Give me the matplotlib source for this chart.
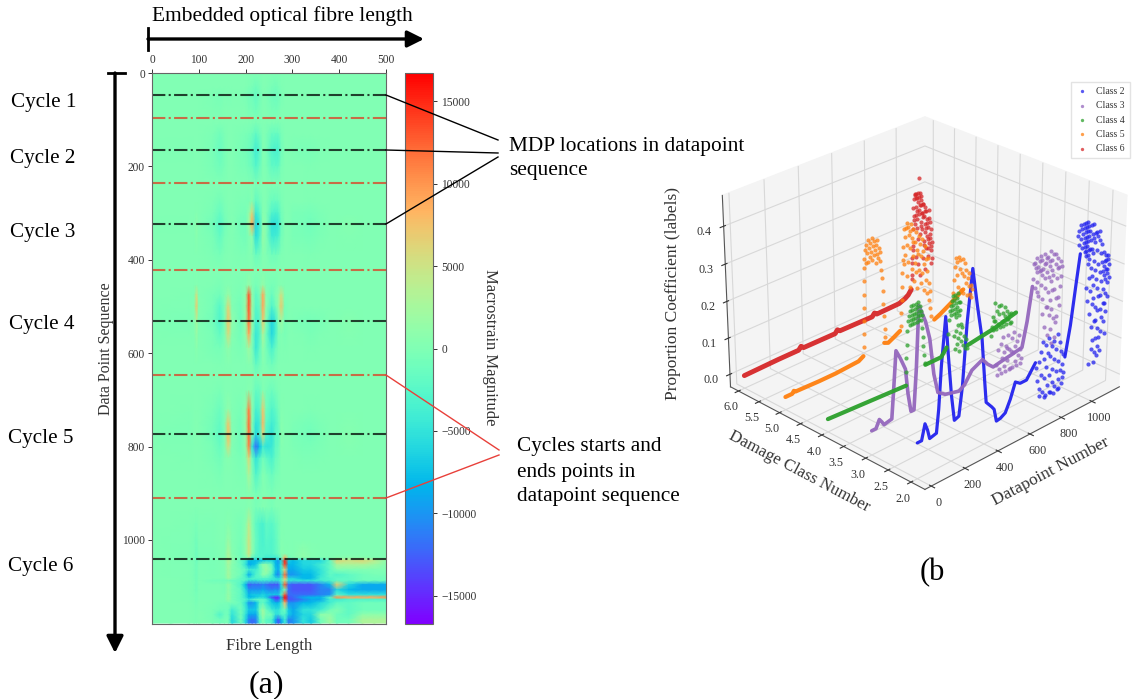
import matplotlib
matplotlib.use('Agg')
import matplotlib.pyplot as plt
import numpy as np

plt.rcParams['font.family'] = ['Liberation Serif', 'DejaVu Serif']

# heatmap (a), strain in thousands
fibre_pos = [0, 40, 80, 90, 95, 100, 130, 145, 155, 163, 171, 190, 200, 207, 214, 222, 230, 237, 244, 256, 264, 270, 276, 284, 292, 302, 323, 340, 360, 380, 395, 420, 450, 475, 500]
seq_pos = [0, 30, 50, 80, 105, 130, 165, 200, 240, 275, 300, 323, 350, 390, 425, 455, 475, 500, 530, 560, 590, 625, 650, 680, 720, 750, 775, 800, 825, 860, 900, 930, 965, 1000, 1030, 1038, 1045, 1053, 1064, 1075, 1083, 1087, 1096, 1107, 1118, 1123, 1128, 1135, 1150, 1160, 1171, 1178]
strain_k = [
 [0]*35,
 [0, 0, 0, 0, 0, 0, 0, 0, 0, 0, 0, 0, 0, -.2, -.4, -1, -.4, 0, 0, -.5, -.7, -.5, -.1, 0, 0, 0, 0, 0, 0, 0, 0, 0, 0, 0, 0],
 [0, 0, 0, 0, 0, 0, -.2, -.4, -.1, -.2, -.1, -.1, -.3, -.7, -1, -1.8, -.7, 0, -.2, -1, -1.2, -1, -.3, 0, 0, 0, 0, 0, 0, 0, 0, 0, 0, 0, 0],
 [0, 0, 0, 0, 0, 0, -.1, -.2, 0, 0, 0, 0, 0, -.3, -.5, -.8, -.3, 0, 0, -.5, -.6, -.4, 0, 0, 0, 0, 0, 0, 0, 0, 0, 0, 0, 0, 0],
 [0, 0, 0, 0, 0, 0, 0, 0, 0, 0, 0, 0, 0, 0, 0, -.1, 0, 0, 0, 0, 0, 0, 0, 0, 0, 0, 0, 0, 0, 0, 0, 0, 0, 0, 0],
 [0, 0, 0, 0, 0, 0, -.2, -.8, -.2, 0, 0, -.2, -.3, -.6, -1, -2, -1, 0, -.2, -1.5, -1.6, -1.5, -.5, 0, 0, 0, 0, 0, 0, 0, 0, 0, 0, 0, 0],
 [0, -.1, -.1, 0, 0, 0, -.4, -1.5, -.4, 0, .1, -.5, -.7, -1.2, -2, -4, -2.5, .2, -.3, -3, -3.5, -3.5, -1, 0, 0, -.2, -.3, -.3, -.1, 0, 0, 0, 0, 0, 0],
 [0, 0, 0, 0, 0, 0, -.3, -1, -.3, 0, 0, -.3, -.4, -.8, -1.4, -2.8, -1.5, .1, -.2, -2, -2.2, -2, -.5, 0, 0, 0, 0, -.1, 0, 0, 0, 0, 0, 0, 0],
 [0, 0, 0, 0, 0, 0, 0, 0, 0, 0, 0, 0, 0, 0, 0, -.2, 0, 0, 0, -.1, 0, 0, 0, 0, 0, 0, 0, 0, 0, 0, 0, 0, 0, 0, 0],
 [0, 0, 0, 0, 0, 0, -.2, -.7, -.2, 0, 0, -.2, -.2, -.3, .5, -2, -1, .1, 0, -1.4, -1.5, -1.3, -.3, 0, 0, 0, 0, -.1, 0, 0, 0, 0, 0, 0, 0],
 [0, 0, 0, 0, .2, 0, -.5, -1.6, -.5, -.1, .1, -.5, -.6, 1, 6, -4.5, -2.5, .5, 0, -3, -3.5, -3, -.8, 0, 0, -.3, -.4, -.6, -.2, 0, 0, .1, 0, 0, 0],
 [0, -.1, 0, 0, .8, 0, -.8, -2.5, -.8, -.2, .2, -.8, -1, 2, 9, -6, -4, 1, .3, -5, -5, -4.5, -1.2, 0, 0, -.5, -.6, -.8, -.3, 0, 0, .5, 0, 0, 0],
 [0, 0, 0, 0, .6, 0, -.5, -1.8, -.5, -.1, .1, -.6, -.7, 0, 1, -5.5, -3.5, 1.5, .2, -4.2, -4, -3.5, -.8, 0, 0, -.3, -.4, -.6, -.2, 0, 0, .2, 0, 0, 0],
 [0, 0, 0, 0, 0, 0, -.2, -.6, -.1, 0, 0, -.2, -.2, 0, 0, -1.4, -.8, .3, 0, -1, -.9, -.6, -.1, 0, 0, 0, 0, -.1, 0, 0, 0, 0, 0, 0, 0],
 [0]*35,
 [0, 0, 0, 0, .3, 0, -.1, -.3, 0, .2, 0, -.2, .2, 1.5, .2, -.6, 0, 1.5, 0, -.6, -.3, 0, .3, 0, 0, 0, 0, 0, 0, 0, 0, 0, 0, 0, 0],
 [0, 0, -.1, 0, 5, 0, -.4, -.8, 0, 1.5, 0, -.4, 1, 13, 1, -2, -.5, 9, .5, -1.5, 0, 1, 5, 0, 0, 0, 0, 0, 0, 0, 0, 0, 0, 0, 0],
 [0, -.1, -.1, .3, 7, .2, -.6, -2.5, -.2, 6, .2, -1, 1.5, 13, 2, -2.5, -1.5, 9, 1, -3, -1, 1.5, 7, -.3, 0, 0, 0, 0, 0, 0, 0, 0, 0, 0, 0],
 [0, -.2, -.3, .2, 2.5, 0, -.9, -3, -.4, 7.5, 1, -1.2, 1.5, 12, 1.5, -3.5, -2.5, 7, 0, -6, -4, 0, 2, -.5, 0, -.2, -.4, -.6, -.3, 0, 0, .5, 0, 0, 0],
 [0, -.1, -.1, 0, 1.5, 0, -.5, -1.8, -.2, 5.5, .5, -.8, 1, 9, 0, -4.5, -3, 3, -1, -6, -3.5, -.5, 0, -.3, 0, 0, -.1, -.3, -.1, 0, 0, .3, 0, 0, 0],
 [0, 0, 0, 0, .6, 0, -.3, -.6, 0, 1, 0, -.3, .2, 2, 0, -4.5, -2, 1, -.6, -3.5, -1.5, -.3, 0, -.1, 0, 0, 0, -.1, 0, 0, 0, 0, 0, 0, 0],
 [0, 0, 0, 0, 0, 0, 0, -.1, 0, .2, 0, 0, 0, .3, 0, -1.8, -.8, .2, -.2, -1, -.3, 0, 0, 0, 0, 0, 0, 0, 0, 0, 0, 0, 0, 0, 0],
 [0, 0, 0, 0, 0, 0, 0, 0, 0, 0, 0, 0, 0, 0, 0, -.3, 0, 0, 0, -.1, 0, 0, 0, 0, 0, 0, 0, 0, 0, 0, 0, 0, 0, 0, 0],
 [0, 0, 0, 0, 0, 0, -.1, -.3, 0, 0, 0, -.1, 0, .4, 0, -1.6, -1.4, .2, -.4, -1.2, -.6, -.2, 0, 0, 0, 0, 0, 0, 0, 0, 0, 0, 0, 0, 0],
 [0, 0, -.1, 0, 0, 0, -.4, -1.2, -.1, 1, 0, -.4, 1, 11, 1, -3.5, -2.5, 7, -1, -3, -2, -.8, .2, 0, 0, 0, 0, -.1, 0, 0, 0, 0, 0, 0, 0],
 [0, -.1, -.2, 0, .2, 0, -.7, -1.8, -.1, 7, .2, -.8, 1.5, 12, .5, -5, -4, 8, -2, -4, -3, -1.5, .4, 0, 0, -.2, -.4, -.6, -.2, 0, 0, .3, 0, 0, 0],
 [0, -.2, -.2, 0, .2, 0, -.9, -2.2, -.2, 8, .3, -1, 1.5, 12, 0, -6, -3.5, 6, -3, -5, -2, -2, .6, 0, 0, -.3, -.6, -.8, -.3, 0, 0, .4, 0, 0, 0],
 [0, -.1, -.1, 0, .1, 0, -.5, -1.5, -.1, 5.5, .2, -.8, 1, 11, -5, -12, -8, -4, -5, -4.5, -2, -1.5, .3, 0, 0, -.2, -.4, -.5, -.2, 0, 0, .3, 0, 0, 0],
 [0, 0, -.1, 0, 0, 0, -.3, -.9, 0, .5, 0, -.4, .5, 6, -1, -5, -3, -1, -2, -3.5, -1.5, -.8, 0, 0, 0, 0, -.2, -.2, -.1, 0, 0, .1, 0, 0, 0],
 [0, 0, 0, 0, 0, 0, -.1, -.3, 0, 0, 0, -.2, 0, 3, 0, -3, -1.5, .3, -.3, -1.5, -.6, -.3, 0, 0, 0, 0, 0, 0, 0, 0, 0, 0, 0, 0, 0],
 [0, 0, 0, 0, 0, 0, 0, 0, 0, 0, 0, 0, 0, .3, 0, -.6, -.2, 0, 0, -.3, 0, 0, 0, 0, 0, 0, 0, 0, 0, 0, 0, 0, 0, 0, 0],
 [0, 0, 0, 0, 0, 0, 0, 0, 0, 0, 0, 0, 0, .5, 0, -.4, -.2, .2, 0, -.4, 0, 0, 0, 0, 0, 0, 0, 0, 0, 0, 0, 0, 0, 0, 0],
 [0, 0, -.1, -.2, -.4, -.1, -.2, 0, 0, .5, 0, -.4, .5, 4, .5, -2, -3, -3.5, -2, -2.5, -1.5, -.8, 0, 0, 0, 0, 0, 0, 0, 0, 0, 0, 0, 0, 0],
 [0, -.1, -.1, -.4, -.9, -.2, -.2, 0, 0, 1.5, .2, -.6, 1, 5, 1, -1.5, -3, -3.5, -2.5, -3, -2, -1, .2, 0, 0, 0, 0, 0, 0, 0, 0, 0, 0, 0, 0],
 [0, -.1, -.2, -.5, -1.2, -.3, -.3, -.1, 0, 3, .5, -.8, 1, 5, 1, -2, -3, -3, -3, -3, -2, -1.2, .4, .2, 0, 0, 1, .3, 0, 0, 0, 0, 0, 0, 0],
 [0, -.1, -.2, -.5, -1.2, -.3, -.3, -.1, 0, 3, .8, -1, 0, 3, -2, -3, -3, -3, -4, -4, -4, -3, -1, 8, -1, 0, 1, .3, 0, 0, .5, .5, .5, 0, 0],
 [0, -.1, -.2, -.5, -1.2, -.3, -.3, -.2, 0, 3, 1, -2, -4, -8, -8, -8, -8, -7, -6, -6, -8, -10, -6, 15, -7, -8, -6, -6, -6, -2, 6, 5, 6, 4, 1],
 [0, -.1, -.1, -.4, -1, -.2, -.3, -.2, 0, 2.5, .6, -1.5, -5, -9, -8, -7, -2, 1, 1, -2, -8, -9, -5, 14, -8, -8, -6, -6, -4, -2, 3, 3, 3, 2, .5],
 [0, -.1, -.1, -.4, -1, -.2, -.3, -.2, 0, 2, .4, -1, -2, -4, -4, -4, -2, 0, 2, -1, -7, -9, -4, 6, -9, -9, -7, -7, -5, -2, 0, 0, 0, 0, 0],
 [0, -.1, -.1, -.4, -1, -.2, -.3, -.2, 0, 2.5, .5, -1, -4, -9, -6, -3, -2, 1, .5, -3, -9, -11, -6, 12, -10, -10, -8, -8, -5, -2, -3, -2, -1, -.5, -.5],
 [0, 0, -.1, -.3, -.8, -.2, -.2, -.2, -.2, 2, .3, -2, -3, -4, -3, -3, -3, -3, -3, -4, -5, -6, -4, 8, -6, -6, -8, -8, -4, -3, -2, -2, -1, -1, -1],
 [0, 0, -.1, -.3, -.8, -.2, -1, -1, -1, -1, -1.5, -2, -3, -5, -5, -5, -4, -4, -4, -5, -5, -5, -3, 5, -5, -5, -5, -5, -4, -3, -2, -2, -1, -1, -1],
 [0, 0, -.1, -.3, -.8, -.2, -.2, -.2, -.3, 1.5, -.3, -3, -8, -13, -12, -12, -12, -11, -12, -13, -13, -13, -6, 13, -12, -13, -13, -13, -11, -8, 7, -6, -9, -9, -9],
 [0, 0, -.1, -.3, -.8, -.2, -.2, -.2, -.4, 1, -.5, -2, -6, -10, -10, -10, -10, -9, -10, -11, -10, -11, -6, 0, -12, -13, -13, -13, -11, -11, -6, -8, -9, -9, -9],
 [0, 0, -.1, -.3, -.6, -.2, -.2, -.2, -.2, 1.5, -.3, -2, -5, -8, -7, -7, -7, -6, -7, -7, -7, -7, -3, 13, -12, -12, -12, -12, -11, -10, -2, -5, -5, -5, -5],
 [0, 0, -.1, -.2, -.6, -.2, -.2, -.2, -.2, 1.5, -.5, -2, -5, -8, -8, -7, -6, -6, -7, -13, -15, -15, -8, 16, -13, -12, -9, -8, -8, -3, 10, 9, 9, 9, 10],
 [0, 0, -.1, -.2, -.6, -.2, -.2, -.2, -.2, 1.5, -.4, -2, -3, -5, -3, -2, -2, -2, -3, -8, -13, -13, -7, 14, -13, -13, -11, -9, -9, -4, -4, -3, -3, -3, -3],
 [0, 0, 0, -.2, -.4, -.1, -.2, -.4, -.4, -.5, -.5, -1.5, -5, -10, -10, -8, -3, -2, -4, -7, -8, -8, -5, 8, -10, -10, -8, -8, -6, -4, -2, -2, -1, -1, -1],
 [0, 0, 0, -.1, -.2, -.1, -.3, -.8, -1, -1, -4, -1, -4, -7, -7, -7, -1, 2, -1, -4, -5, -5, -3, -1, -7, -9, -5, -5, -4, -1, 0, -2, -1, -1, -1],
 [0, 0, 0, -.1, -.2, 0, -.5, -3, -1, -1, -5, -.8, -5, -9, -9, -9, -2, 2, -.5, -1, -5, -5, -3, -3, -7, -9, -6, -6, 1, 1, -1, -2, 1, 1, 1],
 [0, 0, 0, -.1, -.2, 0, -.3, -1, -.5, -.5, -6, -.8, -6, -11, -12, -11, -3, 0, -2, -3, -9, -13, -9, -4, -11, -10, -5, -7, -1, 2, -1, -1, 3, 3, 3],
 [0, 0, 0, -.1, -.2, 0, -.3, -1, -.5, -.5, -6, -.8, -6, -11, -12, -11, -3, 0, -2, -3, -9, -13, -9, -4, -11, -10, -5, -7, -1, 2, -1, -1, 3, 3, 3],
]
mdp_rows = [47, 165, 323, 531, 773, 1041]
cycle_edge_rows = [96, 235, 422, 647, 910]
cycle_names = ['Cycle 1', 'Cycle 2', 'Cycle 3', 'Cycle 4', 'Cycle 5', 'Cycle 6']
cycle_name_y = [102, 158, 232, 325, 438, 566]
cycle_name_x = [11, 10, 10, 9, 8, 8]

# scatter (b): connected stretches (x, z) go in *_line, loose points in *_dots
class2_line = [(0, .06), (25, .06), (45, .1), (60, .08), (72, .055), (112, .06), (125, .12), (140, .23), (164, .35), (180, .25), (200, .14), (218, .07), (245, .075), (265, .15), (290, .31), (320, .44), (350, .34), (380, .25), (400, .13), (410, .075), (445, .055), (460, .045), (475, .01), (500, .012), (530, .02), (560, .05), (590, .09), (620, .08), (660, .08), (715, .115), (None, None), (905, .09), (935, .17), (965, .28), (985, .35)]
class2_dots = [(720, .08), (728, .05), (735, .09), (742, .03), (748, .11), (752, .06), (758, .13), (762, .02), (768, .09), (772, .05), (778, .12), (782, .01), (786, .07), (792, .1), (796, .03), (800, .13), (805, .05), (810, .09), (815, .01), (820, .11), (824, .06), (828, .03), (832, .12), (836, .08), (840, .02), (845, .1), (850, .05), (855, .13), (858, .01), (862, .07), (866, .03), (870, .11), (874, .05), (878, .09), (882, .02), (886, .06), (890, .03), (894, .08), (898, .04), (745, .015), (775, .008), (805, .012), (835, .005), (865, .01),
               (965, .32), (970, .33), (975, .3), (980, .34), (985, .31), (990, .33), (995, .29), (1000, .32), (1004, .34), (1006, .3), (1008, .33), (1010, .31), (1012, .29), (1014, .34), (1016, .32), (1018, .3), (1020, .33), (1022, .28), (1024, .31), (1026, .34), (1028, .29), (1030, .32), (1032, .3), (1034, .27), (1036, .33), (1038, .31), (1040, .28), (1043, .32), (1046, .26), (1049, .3), (1052, .33), (1055, .24), (1058, .28), (1061, .31), (1064, .22), (1067, .27), (1070, .3), (1073, .2), (1076, .25), (1079, .29), (1082, .17), (1085, .23), (1088, .31), (1091, .15), (1094, .21), (1097, .27), (1100, .12), (1103, .19), (1106, .24), (1109, .29), (1112, .1), (1115, .17), (1118, .22), (1121, .26), (1124, .08), (1127, .14), (1130, .2), (1133, .24), (1136, .22), (1139, .12), (1142, .18), (1145, .23), (1148, .21), (1151, .15), (1154, .24), (1157, .2), (1160, .22), (1163, .13), (1166, .25), (1169, .21), (1172, .19), (1175, .23), (1178, .2), (1150, .24), (1158, .25), (1165, .22), (1172, .24), (1140, .26), (1125, .28), (1110, .31), (1095, .3), (1080, .31), (1065, .33), (1050, .28), (1035, .25), (1020, .27), (1015, .28), (1045, .22), (1060, .19), (1075, .16), (1090, .12), (1105, .08), (1120, .06), (1135, .09), (1150, .11), (1165, .08), (1130, .05), (1115, .04), (1100, .05), (1085, .08), (1070, .11), (1055, .14), (1042, .17), (1030, .2), (1078, .06), (1063, .03), (1092, .03), (1110, .14), (1125, .17), (1145, .15), (1160, .17), (1175, .16)]
class3_line = [(0, .03), (25, .03), (45, .05), (60, .04), (72, .03), (118, .035), (130, .11), (145, .21), (170, .185), (200, .15), (215, .08), (232, .03), (250, .03), (265, .14), (280, .3), (320, .25), (345, .2), (370, .1), (395, .045), (440, .03), (525, .02), (560, .03), (605, .06), (672, .075), (705, .055), (740, .04), (800, .045), (870, .05), (925, .055), (955, .12), (985, .21)]
class3_dots = [(760, .03), (770, .06), (778, .02), (786, .07), (794, .04), (802, .08), (810, .02), (818, .06), (826, .03), (834, .08), (842, .05), (850, .01), (858, .07), (866, .04), (874, .08), (882, .02), (890, .06), (898, .03), (906, .07), (914, .04), (922, .02), (765, .01), (790, .01), (815, .01), (840, .01), (865, .01), (890, .01), (915, .01), (806, .05), (830, .055), (855, .045), (880, .05),
               (990, .17), (995, .2), (1000, .15), (1005, .19), (1010, .21), (1015, .16), (1020, .19), (1025, .13), (1030, .18), (1035, .21), (1040, .15), (1045, .2), (1050, .12), (1055, .18), (1060, .21), (1065, .14), (1070, .19), (1075, .1), (1080, .17), (1085, .2), (1090, .13), (1095, .18), (1100, .21), (1105, .15), (1110, .19), (1115, .09), (1120, .16), (1125, .2), (1130, .13), (1135, .18), (1140, .06), (1145, .15), (1150, .19), (1155, .11), (1160, .17), (1165, .13), (1170, .18), (1175, .15), (1178, .17), (1018, .14), (1042, .18), (1068, .16), (1092, .16), (1118, .13), (1142, .11), (1168, .09), (1100, .08), (1085, .1), (1070, .06), (1055, .09), (1090, .04), (1110, .05), (1120, .02), (1135, .03), (1105, .11), (1128, .07), (1150, .07), (1000, .2), (1012, .18), (1028, .2), (1048, .17), (1062, .19), (1078, .2), (1098, .19), (1112, .17), (1132, .2), (1148, .17)]
class4_line = [(0, 0), (470, -.012), (None, None), (590, .02), (640, .02), (690, .02), (725, .04), (None, None), (860, .018), (1040, .03), (1178, .045)]
class4_dots = [(470, .02), (473, .05), (476, .08), (479, .11), (482, .13), (490, .14), (493, .12), (496, .15), (499, .13), (502, .16), (505, .14), (508, .12), (511, .15), (514, .13), (517, .16), (520, .14), (523, .12), (526, .15), (529, .13), (532, .16), (535, .14), (538, .12), (541, .15), (544, .13), (547, .16), (550, .14), (553, .12), (556, .15), (559, .13), (562, .14), (565, .12), (568, .13), (572, .1), (575, .08), (578, .06), (582, .04), (585, .02),
               (735, .06), (740, .09), (745, .11), (750, .12), (753, .1), (756, .13), (759, .11), (762, .14), (765, .12), (768, .1), (771, .13), (774, .11), (777, .14), (780, .1), (783, .12), (786, .09), (789, .13), (792, .11), (795, .14), (798, .1), (801, .12), (804, .09), (807, .12), (810, .1), (815, .07), (770, .05), (776, .02), (782, .06), (788, .03), (794, .07), (800, .04), (806, .01), (812, .05), (818, .03), (824, .06), (830, .02), (836, .04), (842, .01), (848, .03), (854, .01),
               (1010, .01), (1016, .03), (1022, .05), (1028, .02), (1034, .08), (1040, .04), (1046, .02), (1052, .06), (1058, .03), (1064, .05), (1070, .02), (1076, .07), (1082, .03), (1088, .05), (1094, .02), (1100, .06), (1106, .04), (1112, .02), (1118, .05), (1124, .03), (1130, .04), (1136, .02), (1142, .04), (1148, .02), (1030, .04), (1060, .07), (1090, .03), (1120, .03)]
class5_line = [(0, 0), (40, 0), (50, .006), (60, .002), (200, 0), (300, 0), (440, .004), (470, .012), (None, None), (600, .022), (625, .017), (660, .025), (700, .035), (None, None), (920, .022), (960, .03), (1000, .04), (1040, .05), (1110, .07)]
class5_dots = [(476, .03), (477, .06), (478, .09), (479, .12), (480, .15), (481, .18), (482, .21), (484, .23), (488, .25), (492, .22), (496, .26), (500, .24), (504, .27), (508, .22), (512, .25), (516, .23), (520, .26), (524, .24), (528, .22), (532, .27), (536, .25), (540, .23), (544, .26), (548, .24), (552, .21), (556, .25), (560, .23), (564, .26), (568, .22), (572, .24), (576, .21), (580, .23), (584, .19), (588, .17), (592, .14), (596, .11), (600, .08), (604, .05), (606, .03),
               (705, .04), (708, .07), (711, .1), (714, .13), (717, .16), (720, .19), (723, .22), (727, .18), (731, .24), (735, .2), (739, .26), (743, .15), (747, .22), (751, .26), (755, .18), (759, .24), (763, .12), (767, .21), (771, .265), (775, .16), (779, .23), (783, .19), (787, .25), (791, .13), (795, .22), (799, .17), (803, .24), (807, .2), (811, .11), (815, .19), (819, .23), (823, .15), (827, .21), (831, .12), (835, .18), (839, .22), (843, .14), (847, .19), (851, .1), (855, .16), (859, .2), (863, .12), (867, .17), (871, .09), (875, .14), (879, .17), (883, .11), (887, .07), (891, .09), (895, .05), (899, .03), (725, .26), (745, .27), (765, .25), (785, .22), (805, .15),
               (1045, .06), (1050, .09), (1055, .12), (1060, .14), (1065, .1), (1070, .13), (1075, .07), (1080, .14), (1085, .11), (1090, .13), (1095, .06), (1100, .1), (1105, .13), (1110, .05), (1115, .09), (1120, .12), (1125, .07), (1130, .1), (1135, .04), (1140, .08), (1145, .06), (1150, .09), (1155, .04), (1160, .06), (1165, .03), (1170, .05)]
class6_line = [(0, 0), (200, .002), (325, .002), (340, .01), (355, .003), (550, .002), (565, .01), (580, .004), (785, .002), (800, .01), (815, .004), (960, .005), (1000, .012), (1020, .018), (1040, .03)]
class6_dots = [(1042, .06), (1046, .09), (1050, .13), (1054, .17), (1058, .2), (1062, .24), (1066, .25), (1070, .22), (1074, .24), (1078, .21), (1082, .19), (1086, .23), (1090, .2), (1094, .285), (1098, .22), (1102, .18), (1106, .24), (1110, .2), (1114, .16), (1118, .22), (1122, .19), (1126, .13), (1130, .21), (1134, .17), (1138, .2), (1142, .14), (1146, .18), (1150, .11), (1154, .16), (1158, .2), (1162, .13), (1166, .17), (1170, .1), (1174, .15), (1178, .12), (1044, .05), (1052, .12), (1060, .19), (1068, .25), (1076, .17), (1084, .25), (1092, .21), (1100, .15), (1108, .23), (1116, .19), (1124, .12), (1132, .2), (1140, .16), (1148, .09), (1156, .18), (1164, .14), (1172, .11), (1048, .1), (1064, .18), (1080, .24), (1096, .25), (1112, .2), (1128, .15), (1144, .17), (1160, .12), (1176, .08), (1056, .22), (1072, .2), (1088, .14), (1104, .17), (1120, .22), (1136, .11), (1152, .13), (1168, .07), (1075, .25), (1090, .24), (1105, .22), (1070, .1), (1085, .08), (1100, .05), (1115, .09), (1130, .06)]

class_ids = [2, 3, 4, 5, 6]
class_names = ['Class 2', 'Class 3', 'Class 4', 'Class 5', 'Class 6']
class_colors = ['#2222ee', '#9467bd', '#2ca02c', '#ff7f0e', '#d62728']
class_widths = [2.3, 2.6, 3, 3, 3.5]
class_lines = [class2_line, class3_line, class4_line, class5_line, class6_line]
class_dots = [class2_dots, class3_dots, class4_dots, class5_dots, class6_dots]
# dot heights were read low against the z axis, corrected per class
dot_gain = [1.25, 1.35, 1.25, 1.2, 1.18]

W, H = 1135, 699
fig = plt.figure(figsize=(W / 100, H / 100), dpi=100)
ink = '#333333'


def px_axes(x0, y0, x1, y1, **kw):
    return fig.add_axes([x0 / W, 1 - y1 / H, (x1 - x0) / W, (y1 - y0) / H], **kw)


# panel a
ax = px_axes(152, 73, 386, 624)
strain = np.array(strain_k) * 1000
mesh = ax.pcolormesh(fibre_pos, seq_pos, strain, cmap='rainbow', vmin=-16700, vmax=16700, shading='gouraud')
ax.set_xlim(0, 500)
ax.set_ylim(1180, 0)
ax.xaxis.tick_top()
ax.set_xticks([0, 100, 200, 300, 400, 500])
ax.set_yticks([0, 200, 400, 600, 800, 1000])
ax.tick_params(labelsize=8.3, colors=ink, length=3, width=0.7, pad=2)
for s in ax.spines.values():
    s.set_color('#666666')
for r in mdp_rows:
    ax.axhline(r, color='black', ls='-.', lw=1.5, alpha=0.75)
for r in cycle_edge_rows:
    ax.axhline(r, color='#d9482b', ls='-.', lw=1.5, alpha=0.8)
ax.set_ylabel('Data Point Sequence', fontsize=11.5, color=ink, labelpad=6)
ax.set_xlabel('Fibre Length', fontsize=12, color=ink, labelpad=10)

cax = px_axes(405, 73, 433, 624)
cb = fig.colorbar(mesh, cax=cax)
cb.set_ticks([-15000, -10000, -5000, 0, 5000, 10000, 15000])
cb.ax.tick_params(labelsize=8.3, colors=ink, length=3, width=0.7, pad=3)
cb.outline.set_edgecolor('#666666')

# panel b
ax3 = px_axes(700, 78, 1138, 520, projection='3d')
ax3.patch.set_alpha(0)
ax3.view_init(elev=27, azim=-135)
ax3.set_box_aspect((1, 1, 0.765), zoom=1.0)
for i in range(5):
    lx = [np.nan if p[0] is None else p[0] for p in class_lines[i]]
    lz = [np.nan if p[1] is None else p[1] for p in class_lines[i]]
    dx = [p[0] for p in class_dots[i]]
    dz = [p[1] * dot_gain[i] for p in class_dots[i]]
    ax3.plot(lx, [class_ids[i]] * len(lx), lz, color=class_colors[i], lw=class_widths[i], solid_capstyle='round', alpha=0.95)
    ax3.scatter(dx, [class_ids[i]] * len(dx), dz, color=class_colors[i], s=9, alpha=0.75, depthshade=False, linewidths=0, label=class_names[i])
ax3.set_xlim(-37, 1185)
ax3.set_ylim(1.7, 6.2)
ax3.set_zlim(-0.035, 0.48)
ax3.set_xticks([0, 200, 400, 600, 800, 1000])
ax3.set_yticks([2, 2.5, 3, 3.5, 4, 4.5, 5, 5.5, 6])
ax3.set_zticks([0, 0.1, 0.2, 0.3, 0.4])
ax3.tick_params(labelsize=8.7, colors=ink, pad=-2)
ax3.tick_params(axis='z', pad=0)
for a in (ax3.xaxis, ax3.yaxis, ax3.zaxis):
    a.set_pane_color((0.955, 0.955, 0.955, 1))
    a._axinfo['grid']['color'] = '#d8d8d8'
    a._axinfo['grid']['linewidth'] = 0.8
    a.line.set_color('#555555')
ax3.zaxis.set_rotate_label(False)
ax3.set_xlabel('Datapoint Number', fontsize=12.5, color=ink, labelpad=-1)
ax3.set_ylabel('Damage Class Number', fontsize=12.2, color=ink, labelpad=-1)
ax3.set_zlabel('Proportion Coefficient (labels)', fontsize=12.5, color=ink, labelpad=1, rotation=90)
leg = ax3.legend(loc='upper left', bbox_to_anchor=(1071 / W, 1 - 82 / H), bbox_transform=fig.transFigure, fontsize=7, labelspacing=0.55, borderpad=0.5, borderaxespad=0, handlelength=1.2, handletextpad=0.9, markerscale=0.8, fancybox=False, edgecolor='#dddddd', labelcolor=ink)

# text and arrows on top, in pixel coordinates
over = px_axes(0, 0, W, H)
over.set_xlim(0, W)
over.set_ylim(H, 0)
over.axis('off')
over.patch.set_alpha(0)
for name, y, x in zip(cycle_names, cycle_name_y, cycle_name_x):
    over.text(x, y, name, fontsize=15.2, va='center', ha='left')
over.text(282, 16, 'Embedded optical fibre length', fontsize=15.4, va='center', ha='center')
head = dict(arrowstyle='-|>,head_width=0.25,head_length=0.5', mutation_scale=20, color='black', lw=2.4, shrinkA=0, shrinkB=0)
over.plot([148, 148], [28, 50], color='black', lw=2)
over.plot([108, 125], [73, 73], color='black', lw=2)
over.annotate('', xy=(424, 39), xytext=(148, 39), arrowprops=head)
over.annotate('', xy=(115, 653), xytext=(115, 73), arrowprops=head)
for y0, y1 in [(95, 140), (150, 153), (224, 157)]:
    over.plot([386, 498], [y0, y1], color='black', lw=1)
for y0, y1 in [(375, 450), (498, 455)]:
    over.plot([386, 499], [y0, y1], color='#e8403a', lw=1)
over.text(509, 146, 'MDP locations in datapoint', fontsize=15.4, va='center', ha='left')
over.text(509, 170, 'sequence', fontsize=15.4, va='center', ha='left')
over.text(517, 447, 'Cycles starts and', fontsize=15.3, va='center', ha='left')
over.text(517, 472, 'ends points in', fontsize=15.3, va='center', ha='left')
over.text(517, 497, 'datapoint sequence', fontsize=15.3, va='center', ha='left')
over.text(266, 685, '(a)', fontsize=23, va='center', ha='center')
over.text(932, 573, '(b', fontsize=22, va='center', ha='center')
over.text(482, 347, 'Macrostrain Magnitude', fontsize=12, color=ink, rotation=270, va='center', ha='left')

fig.savefig('out.png', dpi=100)
